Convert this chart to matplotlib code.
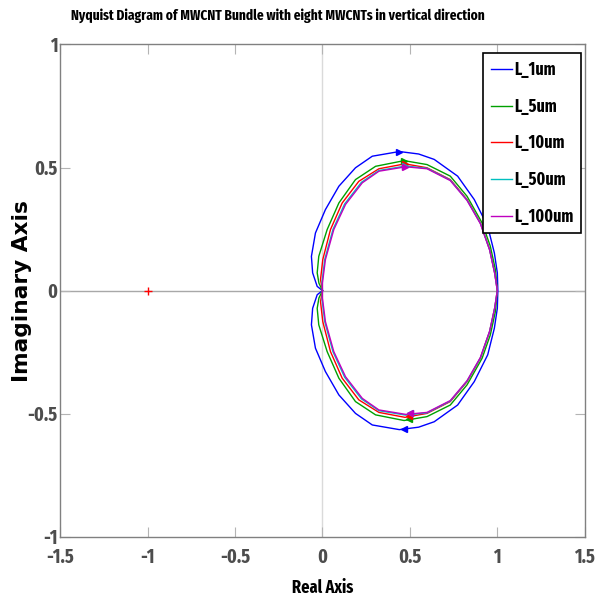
import matplotlib
matplotlib.use("Agg")
import matplotlib.pyplot as plt
from matplotlib import font_manager as fm
from matplotlib.textpath import TextPath
import numpy as np
import os

# upper half of each Nyquist curve, read from origin round to (1, 0)
labels = ["L_1um", "L_5um", "L_10um", "L_50um", "L_100um"]
colors = ["#0000ff", "#00a000", "#ff0000", "#00bfbf", "#bf00bf"]

re_1um = [0.0, -0.030, -0.056, -0.063, -0.040, 0.017, 0.094, 0.189, 0.285, 0.440,
          0.550, 0.639, 0.773, 0.868, 0.945, 0.983, 1.000, 1.003]
im_1um = [0.0, 0.017, 0.072, 0.139, 0.234, 0.329, 0.424, 0.499, 0.546, 0.565,
          0.555, 0.533, 0.465, 0.370, 0.261, 0.153, 0.072, 0.0]

re_5um = [0.0, -0.020, -0.030, -0.021, 0.027, 0.094, 0.189, 0.304, 0.467, 0.598,
          0.731, 0.827, 0.913, 0.960, 0.989, 1.0]
im_5um = [0.0, 0.030, 0.072, 0.139, 0.248, 0.356, 0.451, 0.505, 0.528, 0.512,
          0.465, 0.383, 0.275, 0.180, 0.085, 0.0]

re_10um = [0.0, -0.011, 0.002, 0.046, 0.113, 0.208, 0.323, 0.472, 0.598, 0.731,
           0.827, 0.903, 0.956, 0.985, 1.0]
im_10um = [0.0, 0.045, 0.126, 0.248, 0.356, 0.444, 0.495, 0.515, 0.499, 0.451,
           0.370, 0.275, 0.167, 0.072, 0.0]

re_50um = [0.0, -0.002, 0.013, 0.060, 0.127, 0.223, 0.323, 0.475, 0.598, 0.731,
           0.827, 0.903, 0.956, 0.985, 1.0]
im_50um = [0.0, 0.035, 0.126, 0.248, 0.352, 0.440, 0.488, 0.506, 0.497, 0.449,
           0.368, 0.274, 0.166, 0.071, 0.0]

re_100um = [0.0, 0.0, 0.017, 0.065, 0.132, 0.228, 0.323, 0.476, 0.598, 0.731,
            0.827, 0.903, 0.956, 0.985, 1.0]
im_100um = [0.0, 0.031, 0.126, 0.248, 0.350, 0.438, 0.485, 0.503, 0.495, 0.447,
            0.366, 0.272, 0.165, 0.070, 0.0]

# arrow positions (upper points right, lower points left)
arrow_up = [(0.440, 0.565), (0.467, 0.528), (0.472, 0.515), (0.474, 0.506), (0.474, 0.504)]
arrow_dn = [(0.465, -0.561), (0.493, -0.522), (0.493, -0.508), (0.499, -0.499), (0.499, -0.497)]

curves = [(re_1um, im_1um), (re_5um, im_5um), (re_10um, im_10um),
          (re_50um, im_50um), (re_100um, im_100um)]

xticks = [-1.5, -1, -0.5, 0, 0.5, 1, 1.5]
xticklabels = ["-1.5", "-1", "-0.5", "0", "0.5", "1", "1.5"]
yticks = [-1, -0.5, 0, 0.5, 1]
yticklabels = ["-1", "-0.5", "0", "0.5", "1"]

title = "Nyquist Diagram of MWCNT Bundle with eight MWCNTs in vertical direction"
grey = "#4d4d4d"

# narrow bold face, looked up by file name, first one found wins
narrow_files = ["FiraSansExtraCondensed-Bold.ttf", "OpenSansCondensed-Bold.ttf",
                "BarlowCondensed-Bold.ttf", "AsapCondensed-Bold.ttf",
                "PragatiNarrow-Bold.ttf", "DejaVuSansCondensed-Bold.ttf"]


def narrow_font():
    have = {os.path.basename(f.fname).lower(): f.fname for f in fm.fontManager.ttflist}
    for n in narrow_files:
        if n.lower() in have:
            return have[n.lower()]
    return None


NARROW = narrow_font()


def fp(size):
    if NARROW:
        return fm.FontProperties(fname=NARROW, size=size)
    return fm.FontProperties(family="DejaVu Sans", weight="bold", size=size)


def fit(text, px, prop=None):
    # font size (pt) whose ink width is px pixels at 100 dpi
    prop = prop if prop is not None else fp(100)
    prop = prop.copy()
    prop.set_size(100)
    w = TextPath((0, 0), text, prop=prop).get_extents().width
    return px * 72.0 / w


def main():
    fig = plt.figure(figsize=(6.01, 6.01), dpi=100)
    ax = fig.add_axes([0.1, 0.107, 0.873, 0.819])
    plot_data(ax)
    set_properties(ax)
    fig.savefig("out.png", dpi=100)


def plot_data(ax):
    ax.axhline(0, color="#a8a8a8", lw=1, zorder=1)
    ax.axvline(0, color="#dadada", lw=1, zorder=1)
    ax.plot(-1, 0, "+", color="red", ms=6, mew=1, zorder=3)
    for (re, im), c, lab in zip(curves, colors, labels):
        re = np.array(re)
        im = np.array(im)
        x = np.concatenate([re, re[::-1]])
        y = np.concatenate([im, -im[::-1]])
        ax.plot(x, y, color=c, lw=1, label=lab, zorder=2)
    for (xu, yu), (xd, yd), c in zip(arrow_up, arrow_dn, colors):
        ax.plot(xu, yu, ">", color=c, ms=5, zorder=4)
        ax.plot(xd, yd, "<", color=c, ms=5, zorder=4)


def set_properties(ax):
    ax.set_xlim(-1.5, 1.5)
    ax.set_ylim(-1, 1)
    tick_size = fit("0.5", 22)
    ax.set_xticks(xticks)
    ax.set_xticklabels(xticklabels, fontproperties=fp(tick_size), color=grey)
    ax.set_yticks(yticks)
    ax.set_yticklabels(yticklabels, fontproperties=fp(tick_size), color=grey)
    for s in ax.spines.values():
        s.set_color("#808080")
        s.set_linewidth(1)
    ax.tick_params(direction="in", length=7, color="#b4b4b4", top=True, right=True)
    ax.tick_params(axis="x", pad=8)
    ax.tick_params(axis="y", pad=2)
    ax.set_title(title, fontproperties=fp(fit(title, 412)), x=0.4155, y=1.0325)
    ax.set_xlabel("Real Axis", fontproperties=fp(fit("Real Axis", 60)))
    ax.xaxis.set_label_coords(0.5, -0.086)
    ylab = fm.FontProperties(family="DejaVu Sans", weight="bold")
    ax.set_ylabel("Imaginary Axis", fontproperties=fp(1))
    ylab.set_size(fit("Imaginary Axis", 178, ylab))
    ax.yaxis.label.set_fontproperties(ylab)
    ax.yaxis.set_label_coords(-0.054, 0.5)
    leg_size = fit("L_100um", 58)
    leg_px = leg_size * 100 / 72.0
    leg = ax.legend(loc="upper right", bbox_to_anchor=(0.9933, 0.983), prop=fp(leg_size),
                    handlelength=21 / leg_px, handletextpad=0.12,
                    labelspacing=34.5 / leg_px - 0.9,
                    borderaxespad=0, borderpad=0.35 + 2 / leg_px, fancybox=False,
                    framealpha=1)
    leg.get_frame().set_edgecolor("black")
    leg.get_frame().set_linewidth(1.2)


if __name__ == "__main__":
    main()
